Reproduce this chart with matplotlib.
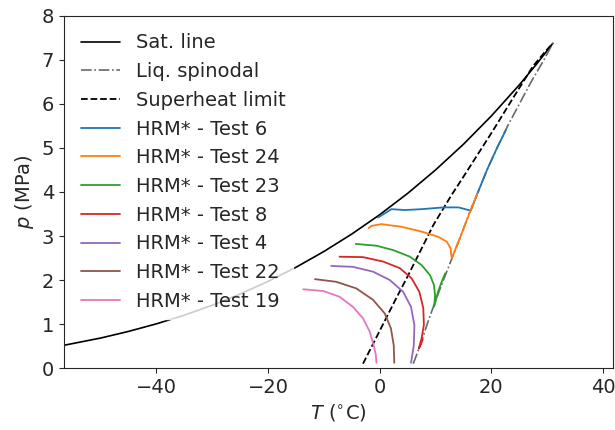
import matplotlib
matplotlib.use('Agg')
import matplotlib.pyplot as plt
import seaborn as sns

# CO2 saturation line (T in degC, p in MPa)
sat_T = [-56.56, -50, -45, -40, -35, -30, -25, -20, -15, -10, -5, 0, 5, 10, 15, 20, 25, 28, 30, 31.0]
sat_p = [0.518, 0.682, 0.833, 1.005, 1.202, 1.428, 1.683, 1.969, 2.290, 2.649, 3.046, 3.485, 3.969, 4.502, 5.086, 5.729, 6.434, 6.892, 7.214, 7.377]

# liquid spinodal
spin_T = [6.0, 7.2, 8.5, 9.9, 11.4, 12.95, 14.5, 16.0, 17.6, 19.2, 21.0, 22.9, 25.0, 27.1, 29.4, 31.0]
spin_p = [0.1, 0.5, 1.0, 1.5, 2.0, 2.5, 3.0, 3.5, 4.0, 4.5, 5.0, 5.5, 6.0, 6.5, 7.0, 7.38]

# superheat limit
shl_T = [-3.0, 2.8, 5.1, 9.6, 12.85, 14.6, 20.2, 23.8, 27.4, 29.5, 31.0]
shl_p = [0.1, 1.55, 2.11, 3.25, 3.93, 4.27, 5.38, 6.12, 6.85, 7.17, 7.38]

# HRM* results
test6_T = [22.6, 21.0, 19.2, 17.6, 16.3, 15.9, 14.1, 11.4, 7.5, 4.5, 2.1, -0.3]
test6_p = [5.41, 5.0, 4.5, 4.0, 3.58, 3.59, 3.65, 3.65, 3.61, 3.59, 3.61, 3.42]

test24_T = [17.5, 16.0, 14.5, 12.9, 12.8, 12.7, 12.0, 10.5, 7.5, 3.9, 0.3, -1.5, -2.0]
test24_p = [3.97, 3.5, 3.0, 2.50, 2.57, 2.72, 2.87, 2.98, 3.10, 3.21, 3.27, 3.23, 3.18]

test23_T = [11.7, 11.0, 10.4, 9.75, 9.9, 9.7, 9.0, 7.5, 5.4, 2.4, -0.6, -4.3]
test23_p = [2.15, 1.93, 1.72, 1.40, 1.66, 1.89, 2.11, 2.34, 2.53, 2.68, 2.78, 2.82]

test8_T = [7.7, 7.4, 7.0, 7.5, 7.9, 7.8, 7.1, 5.7, 3.6, 0.6, -3.0, -7.2]
test8_p = [0.65, 0.55, 0.44, 0.68, 0.98, 1.36, 1.73, 2.04, 2.27, 2.42, 2.52, 2.53]

test4_T = [5.6, 6.1, 6.2, 5.6, 4.2, 1.8, -1.2, -4.8, -8.7]
test4_p = [0.12, 0.52, 0.98, 1.39, 1.73, 2.0, 2.19, 2.30, 2.32]

test22_T = [2.6, 2.5, 2.0, 0.9, -1.2, -4.2, -7.8, -11.6]
test22_p = [0.12, 0.52, 0.90, 1.24, 1.55, 1.81, 1.96, 2.02]

test19_T = [-0.6, -0.7, -1.1, -1.8, -3.0, -4.8, -7.2, -10.1, -13.7]
test19_p = [0.12, 0.30, 0.52, 0.83, 1.13, 1.39, 1.62, 1.75, 1.79]

tests = [('6', test6_T, test6_p), ('24', test24_T, test24_p), ('23', test23_T, test23_p),
         ('8', test8_T, test8_p), ('4', test4_T, test4_p), ('22', test22_T, test22_p),
         ('19', test19_T, test19_p)]

sns.set_style('ticks')
plt.rcParams['font.family'] = ['DejaVu Sans']

fig, ax = plt.subplots(figsize=(6.15, 4.3), dpi=100)
fig.subplots_adjust(left=0.104, right=0.997, top=0.963, bottom=0.144)

ax.plot(sat_T, sat_p, color='black', lw=1.2, label='Sat. line')
ax.plot(spin_T, spin_p, color='dimgray', lw=1.2, linestyle='-.', label='Liq. spinodal')
ax.plot(shl_T, shl_p, color='black', lw=1.3, linestyle='--', label='Superheat limit')
for name, T, p in tests:
    ax.plot(T, p, lw=1.3, label='HRM* - Test ' + name)

ax.set_xlim(-56.56, 41.8)
ax.set_ylim(0, 8)
ax.set_xticks([-40, -20, 0, 20, 40])
ax.tick_params(labelsize=14)
ax.set_xlabel(r'$T$ ($^{\circ}$C)', fontsize=14)
ax.set_ylabel(r'$p$ (MPa)', fontsize=14)

leg = ax.legend(loc='upper left', fontsize=14, frameon=True, framealpha=0.8)
leg.get_frame().set_edgecolor('white')

fig.savefig('out.png', dpi=100)
